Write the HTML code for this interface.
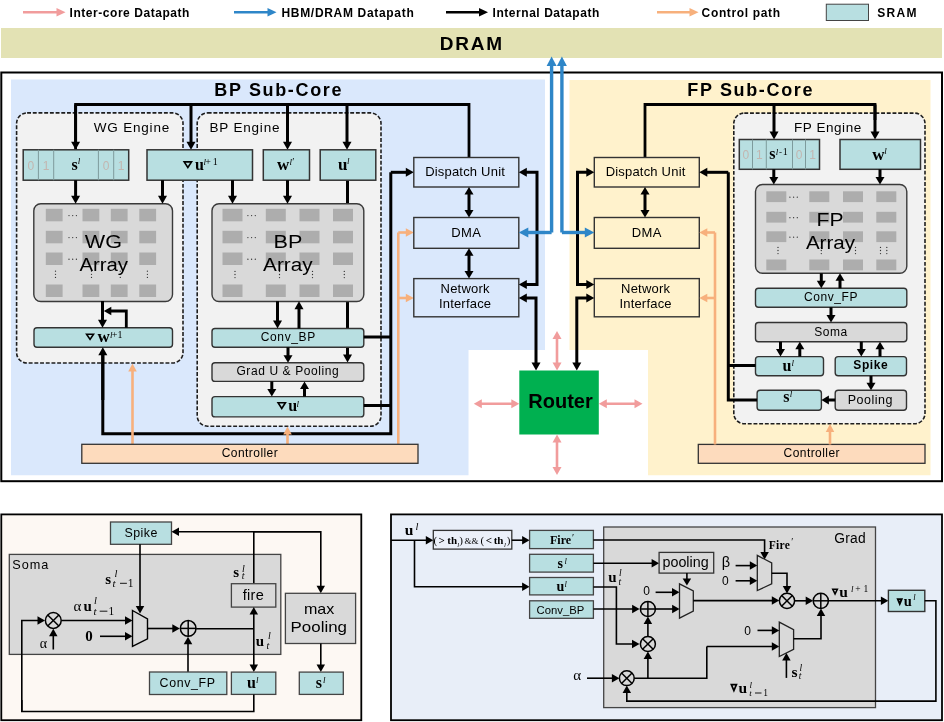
<!DOCTYPE html><html><head><meta charset="utf-8"><style>html,body{margin:0;padding:0;background:#fff;overflow:hidden}svg{display:block;will-change:transform}</style></head><body>
<svg width="944" height="722" viewBox="0 0 944 722">
<rect x="0" y="0" width="944" height="722" fill="#fff"/>
<polyline points="23,12.2 59.2,12.2" fill="none" stroke="#f19c9c" stroke-width="2.6" stroke-linejoin="miter" />
<polygon points="65.5,12.2 56.5,16.45 56.5,7.95" fill="#f19c9c" stroke="none" stroke-width="1" stroke-linejoin="miter" />
<text x="69.5" y="16.7" font-family="Liberation Sans" font-size="12" font-weight="bold" font-style="normal" text-anchor="start" fill="#000" letter-spacing="0.55" >Inter-core Datapath</text>
<polyline points="234,12.2 270.2,12.2" fill="none" stroke="#2e86c8" stroke-width="2.6" stroke-linejoin="miter" />
<polygon points="276.5,12.2 267.5,16.45 267.5,7.95" fill="#2e86c8" stroke="none" stroke-width="1" stroke-linejoin="miter" />
<text x="281.5" y="16.7" font-family="Liberation Sans" font-size="12" font-weight="bold" font-style="normal" text-anchor="start" fill="#000" letter-spacing="0.68" >HBM/DRAM Datapath</text>
<polyline points="446,12.2 481.7,12.2" fill="none" stroke="#000" stroke-width="2.6" stroke-linejoin="miter" />
<polygon points="488,12.2 479,16.45 479,7.95" fill="#000" stroke="none" stroke-width="1" stroke-linejoin="miter" />
<text x="492.5" y="16.7" font-family="Liberation Sans" font-size="12" font-weight="bold" font-style="normal" text-anchor="start" fill="#000" letter-spacing="0.55" >Internal Datapath</text>
<polyline points="657,12.2 692.2,12.2" fill="none" stroke="#f7b07c" stroke-width="2.6" stroke-linejoin="miter" />
<polygon points="698.5,12.2 689.5,16.45 689.5,7.95" fill="#f7b07c" stroke="none" stroke-width="1" stroke-linejoin="miter" />
<text x="701.6" y="16.7" font-family="Liberation Sans" font-size="12" font-weight="bold" font-style="normal" text-anchor="start" fill="#000" letter-spacing="0.65" >Control path</text>
<rect x="826.3" y="4.2" width="42.2" height="16.3" rx="0" fill="#b8dfe1" stroke="#444" stroke-width="1" />
<text x="877.2" y="16.7" font-family="Liberation Sans" font-size="12" font-weight="bold" font-style="normal" text-anchor="start" fill="#000" letter-spacing="1.3" >SRAM</text>
<rect x="1" y="28" width="941" height="30" rx="0" fill="#e3e2b4" stroke="none" stroke-width="1" />
<text x="439.7" y="50.2" font-family="Liberation Sans" font-size="19" font-weight="bold" font-style="normal" text-anchor="start" fill="#000" letter-spacing="1.8" >DRAM</text>
<rect x="1.3" y="72.5" width="940.7" height="408.7" rx="0" fill="#fff" stroke="#000" stroke-width="2" />
<polygon points="11,79.5 545,79.5 545,350 468.5,350 468.5,475.3 11,475.3" fill="#dae8fc" stroke="none" stroke-width="1" stroke-linejoin="miter" />
<polygon points="569.5,80 930.5,80 930.5,475.3 648,475.3 648,350 569.5,350" fill="#fff2cc" stroke="none" stroke-width="1" stroke-linejoin="miter" />
<text x="214.3" y="96.4" font-family="Liberation Sans" font-size="18" font-weight="bold" font-style="normal" text-anchor="start" fill="#000" letter-spacing="1.65" >BP Sub-Core</text>
<text x="687.3" y="96.4" font-family="Liberation Sans" font-size="18" font-weight="bold" font-style="normal" text-anchor="start" fill="#000" letter-spacing="1.65" >FP Sub-Core</text>
<rect x="16.6" y="112.9" width="166.4" height="250.1" rx="10.5" fill="#f2f2f2" stroke="#1e1e1e" stroke-width="1.6" stroke-dasharray="3.9 1.8"/>
<rect x="197.2" y="112.9" width="183.8" height="313.3" rx="10.5" fill="#f2f2f2" stroke="#1e1e1e" stroke-width="1.6" stroke-dasharray="3.9 1.8"/>
<rect x="733.8" y="113.1" width="191.2" height="310.7" rx="10.5" fill="#f2f2f2" stroke="#1e1e1e" stroke-width="1.6" stroke-dasharray="3.9 1.8"/>
<text x="93.8" y="131.8" font-family="Liberation Sans" font-size="13.5" font-weight="normal" font-style="normal" text-anchor="start" fill="#000" letter-spacing="0.8" >WG Engine</text>
<text x="209.5" y="131.8" font-family="Liberation Sans" font-size="13.5" font-weight="normal" font-style="normal" text-anchor="start" fill="#000" letter-spacing="0.8" >BP Engine</text>
<text x="794" y="131.8" font-family="Liberation Sans" font-size="13.5" font-weight="normal" font-style="normal" text-anchor="start" fill="#000" letter-spacing="0.55" >FP Engine</text>
<polyline points="347.5,180.2 347.5,355" fill="none" stroke="#000" stroke-width="3" stroke-linejoin="miter" />
<polygon points="347.5,362.5 343,354.5 352,354.5" fill="#000" stroke="none" stroke-width="1" stroke-linejoin="miter" />
<polyline points="75.6,150 75.6,104.5 469,104.5 469,157.5" fill="none" stroke="#000" stroke-width="2.8" stroke-linejoin="miter" />
<polyline points="75.6,104.5 75.6,144.2" fill="none" stroke="#000" stroke-width="3" stroke-linejoin="miter" />
<polygon points="75.6,149.8 71.1,141.8 80.1,141.8" fill="#000" stroke="none" stroke-width="1" stroke-linejoin="miter" />
<polyline points="191,104.5 191,144.2" fill="none" stroke="#000" stroke-width="3" stroke-linejoin="miter" />
<polygon points="191,149.8 186.5,141.8 195.5,141.8" fill="#000" stroke="none" stroke-width="1" stroke-linejoin="miter" />
<polyline points="287.5,104.5 287.5,144.2" fill="none" stroke="#000" stroke-width="3" stroke-linejoin="miter" />
<polygon points="287.5,149.8 283,141.8 292,141.8" fill="#000" stroke="none" stroke-width="1" stroke-linejoin="miter" />
<polyline points="347,104.5 347,144.2" fill="none" stroke="#000" stroke-width="3" stroke-linejoin="miter" />
<polygon points="347,149.8 342.5,141.8 351.5,141.8" fill="#000" stroke="none" stroke-width="1" stroke-linejoin="miter" />
<polyline points="645,157.5 645,104.5 875,104.5 875,120" fill="none" stroke="#000" stroke-width="2.8" stroke-linejoin="miter" />
<polyline points="774,104.5 774,133.9" fill="none" stroke="#000" stroke-width="3" stroke-linejoin="miter" />
<polygon points="774,139.5 769.5,131.5 778.5,131.5" fill="#000" stroke="none" stroke-width="1" stroke-linejoin="miter" />
<polyline points="875,104.5 875,133.9" fill="none" stroke="#000" stroke-width="3" stroke-linejoin="miter" />
<polygon points="875,139.5 870.5,131.5 879.5,131.5" fill="#000" stroke="none" stroke-width="1" stroke-linejoin="miter" />
<rect x="23.2" y="149.8" width="105.5" height="30.4" rx="0" fill="#b8dfe1" stroke="#333333" stroke-width="1.5" />
<polyline points="38.4,149.8 38.4,180.2" fill="none" stroke="#7e9b9c" stroke-width="1" stroke-linejoin="miter" />
<polyline points="53.7,149.8 53.7,180.2" fill="none" stroke="#7e9b9c" stroke-width="1" stroke-linejoin="miter" />
<polyline points="98.4,149.8 98.4,180.2" fill="none" stroke="#7e9b9c" stroke-width="1" stroke-linejoin="miter" />
<polyline points="113.7,149.8 113.7,180.2" fill="none" stroke="#7e9b9c" stroke-width="1" stroke-linejoin="miter" />
<text x="30.8" y="169.5" font-family="Liberation Sans" font-size="12" font-weight="normal" font-style="normal" text-anchor="middle" fill="#c2b6b0" letter-spacing="0" >0</text>
<text x="46.05" y="169.5" font-family="Liberation Sans" font-size="12" font-weight="normal" font-style="normal" text-anchor="middle" fill="#c2b6b0" letter-spacing="0" >1</text>
<text x="106.05" y="169.5" font-family="Liberation Sans" font-size="12" font-weight="normal" font-style="normal" text-anchor="middle" fill="#c2b6b0" letter-spacing="0" >0</text>
<text x="121.2" y="169.5" font-family="Liberation Sans" font-size="12" font-weight="normal" font-style="normal" text-anchor="middle" fill="#c2b6b0" letter-spacing="0" >1</text>
<rect x="739.3" y="139.5" width="80.2" height="29.8" rx="0" fill="#b8dfe1" stroke="#333333" stroke-width="1.5" />
<polyline points="752.5,139.5 752.5,169.3" fill="none" stroke="#7e9b9c" stroke-width="1" stroke-linejoin="miter" />
<polyline points="766.3,139.5 766.3,169.3" fill="none" stroke="#7e9b9c" stroke-width="1" stroke-linejoin="miter" />
<polyline points="792.5,139.5 792.5,169.3" fill="none" stroke="#7e9b9c" stroke-width="1" stroke-linejoin="miter" />
<polyline points="805.5,139.5 805.5,169.3" fill="none" stroke="#7e9b9c" stroke-width="1" stroke-linejoin="miter" />
<text x="745.9" y="159" font-family="Liberation Sans" font-size="12" font-weight="normal" font-style="normal" text-anchor="middle" fill="#c2b6b0" letter-spacing="0" >0</text>
<text x="759.4" y="159" font-family="Liberation Sans" font-size="12" font-weight="normal" font-style="normal" text-anchor="middle" fill="#c2b6b0" letter-spacing="0" >1</text>
<text x="799" y="159" font-family="Liberation Sans" font-size="12" font-weight="normal" font-style="normal" text-anchor="middle" fill="#c2b6b0" letter-spacing="0" >0</text>
<text x="812.5" y="159" font-family="Liberation Sans" font-size="12" font-weight="normal" font-style="normal" text-anchor="middle" fill="#c2b6b0" letter-spacing="0" >1</text>
<rect x="147" y="149.8" width="105.5" height="30.4" rx="0" fill="#b8dfe1" stroke="#333333" stroke-width="1.5" />
<rect x="263.3" y="149.8" width="46.2" height="30.4" rx="0" fill="#b8dfe1" stroke="#333333" stroke-width="1.5" />
<rect x="320.2" y="149.8" width="55.6" height="30.4" rx="0" fill="#b8dfe1" stroke="#333333" stroke-width="1.5" />
<rect x="840" y="139.5" width="80.5" height="29.8" rx="0" fill="#b8dfe1" stroke="#333333" stroke-width="1.5" />
<text x="71.4" y="169.9" font-family="Liberation Serif" font-size="16" font-weight="bold" font-style="normal" text-anchor="start" fill="#000" letter-spacing="0" >s</text>
<text x="77.8" y="164.2" font-family="Liberation Serif" font-size="9" font-weight="normal" font-style="italic" text-anchor="start" fill="#000" letter-spacing="0" >l</text>
<polygon points="184.18,161.9 191.52,161.9 187.85,167.44" fill="none" stroke="#000" stroke-width="1.6" stroke-linejoin="miter" />
<text x="194.9" y="169.8" font-family="Liberation Serif" font-size="16" font-weight="bold" font-style="normal" text-anchor="start" fill="#000" letter-spacing="0" >u</text>
<text x="203.5" y="165" font-family="Liberation Serif" font-size="9" font-weight="normal" font-style="italic" text-anchor="start" fill="#000" letter-spacing="0" >l</text>
<text x="205.2" y="165" font-family="Liberation Serif" font-size="10" font-weight="normal" font-style="normal" text-anchor="start" fill="#000" letter-spacing="0" >+</text>
<text x="212.8" y="165" font-family="Liberation Serif" font-size="10" font-weight="normal" font-style="normal" text-anchor="start" fill="#000" letter-spacing="0" >1</text>
<text x="277" y="169.8" font-family="Liberation Serif" font-size="17" font-weight="bold" font-style="normal" text-anchor="start" fill="#000" letter-spacing="0" >w</text>
<text x="289.4" y="164.6" font-family="Liberation Serif" font-size="9" font-weight="normal" font-style="italic" text-anchor="start" fill="#000" letter-spacing="0" >l</text>
<text x="292.3" y="164.6" font-family="Liberation Serif" font-size="10" font-weight="normal" font-style="normal" text-anchor="start" fill="#000" letter-spacing="0" >&#8242;</text>
<text x="338.1" y="169.8" font-family="Liberation Serif" font-size="17" font-weight="bold" font-style="normal" text-anchor="start" fill="#000" letter-spacing="0" >u</text>
<text x="347" y="164.2" font-family="Liberation Serif" font-size="9" font-weight="normal" font-style="italic" text-anchor="start" fill="#000" letter-spacing="0" >l</text>
<text x="769.3" y="159" font-family="Liberation Serif" font-size="16" font-weight="bold" font-style="normal" text-anchor="start" fill="#000" letter-spacing="0" >s</text>
<text x="775.8" y="154.8" font-family="Liberation Serif" font-size="9" font-weight="normal" font-style="italic" text-anchor="start" fill="#000" letter-spacing="0" >l</text>
<text x="779" y="154.8" font-family="Liberation Serif" font-size="9" font-weight="normal" font-style="normal" text-anchor="start" fill="#000" letter-spacing="0" >-</text>
<text x="782.8" y="154.8" font-family="Liberation Serif" font-size="10" font-weight="normal" font-style="normal" text-anchor="start" fill="#000" letter-spacing="0" >1</text>
<text x="872.2" y="159.5" font-family="Liberation Serif" font-size="17" font-weight="bold" font-style="normal" text-anchor="start" fill="#000" letter-spacing="0" >w</text>
<text x="884.3" y="154.2" font-family="Liberation Serif" font-size="9" font-weight="normal" font-style="italic" text-anchor="start" fill="#000" letter-spacing="0" >l</text>
<rect x="33.8" y="203.8" width="138.7" height="97.7" rx="7" fill="#d9d9d9" stroke="#3a3a3a" stroke-width="1.4" />
<rect x="45.8" y="208.8" width="16.8" height="12.5" rx="0" fill="#adadad" stroke="none" stroke-width="1" />
<rect x="45.8" y="230.8" width="16.8" height="12.5" rx="0" fill="#adadad" stroke="none" stroke-width="1" />
<rect x="45.8" y="252.5" width="16.8" height="12.5" rx="0" fill="#adadad" stroke="none" stroke-width="1" />
<rect x="45.8" y="284.5" width="16.8" height="12.5" rx="0" fill="#adadad" stroke="none" stroke-width="1" />
<rect x="82.5" y="208.8" width="16.8" height="12.5" rx="0" fill="#adadad" stroke="none" stroke-width="1" />
<rect x="82.5" y="230.8" width="16.8" height="12.5" rx="0" fill="#adadad" stroke="none" stroke-width="1" />
<rect x="82.5" y="252.5" width="16.8" height="12.5" rx="0" fill="#adadad" stroke="none" stroke-width="1" />
<rect x="82.5" y="284.5" width="16.8" height="12.5" rx="0" fill="#adadad" stroke="none" stroke-width="1" />
<rect x="110.8" y="208.8" width="16.8" height="12.5" rx="0" fill="#adadad" stroke="none" stroke-width="1" />
<rect x="110.8" y="230.8" width="16.8" height="12.5" rx="0" fill="#adadad" stroke="none" stroke-width="1" />
<rect x="110.8" y="252.5" width="16.8" height="12.5" rx="0" fill="#adadad" stroke="none" stroke-width="1" />
<rect x="110.8" y="284.5" width="16.8" height="12.5" rx="0" fill="#adadad" stroke="none" stroke-width="1" />
<rect x="139.3" y="208.8" width="16.8" height="12.5" rx="0" fill="#adadad" stroke="none" stroke-width="1" />
<rect x="139.3" y="230.8" width="16.8" height="12.5" rx="0" fill="#adadad" stroke="none" stroke-width="1" />
<rect x="139.3" y="252.5" width="16.8" height="12.5" rx="0" fill="#adadad" stroke="none" stroke-width="1" />
<rect x="139.3" y="284.5" width="16.8" height="12.5" rx="0" fill="#adadad" stroke="none" stroke-width="1" />
<circle cx="69" cy="215.55" r="0.65" fill="#333"/>
<circle cx="72.7" cy="215.55" r="0.65" fill="#333"/>
<circle cx="76.4" cy="215.55" r="0.65" fill="#333"/>
<circle cx="69" cy="237.55" r="0.65" fill="#333"/>
<circle cx="72.7" cy="237.55" r="0.65" fill="#333"/>
<circle cx="76.4" cy="237.55" r="0.65" fill="#333"/>
<circle cx="69" cy="259.25" r="0.65" fill="#333"/>
<circle cx="72.7" cy="259.25" r="0.65" fill="#333"/>
<circle cx="76.4" cy="259.25" r="0.65" fill="#333"/>
<circle cx="55.5" cy="271.2" r="0.65" fill="#333"/>
<circle cx="55.5" cy="274.3" r="0.65" fill="#333"/>
<circle cx="55.5" cy="277.4" r="0.65" fill="#333"/>
<circle cx="91.5" cy="271.2" r="0.65" fill="#333"/>
<circle cx="91.5" cy="274.3" r="0.65" fill="#333"/>
<circle cx="91.5" cy="277.4" r="0.65" fill="#333"/>
<circle cx="120.3" cy="271.2" r="0.65" fill="#333"/>
<circle cx="120.3" cy="274.3" r="0.65" fill="#333"/>
<circle cx="120.3" cy="277.4" r="0.65" fill="#333"/>
<circle cx="147.4" cy="271.2" r="0.65" fill="#333"/>
<circle cx="147.4" cy="274.3" r="0.65" fill="#333"/>
<circle cx="147.4" cy="277.4" r="0.65" fill="#333"/>
<text x="84.8" y="247.5" font-family="Liberation Sans" font-size="18" font-weight="normal" fill="#000" textLength="37.2" lengthAdjust="spacingAndGlyphs">WG</text>
<text x="79.4" y="270.5" font-family="Liberation Sans" font-size="18" font-weight="normal" fill="#000" textLength="48.6" lengthAdjust="spacingAndGlyphs">Array</text>
<rect x="212" y="203.8" width="151.8" height="97.7" rx="7" fill="#d9d9d9" stroke="#3a3a3a" stroke-width="1.4" />
<rect x="222.5" y="208.8" width="20" height="12.5" rx="0" fill="#adadad" stroke="none" stroke-width="1" />
<rect x="222.5" y="230.8" width="20" height="12.5" rx="0" fill="#adadad" stroke="none" stroke-width="1" />
<rect x="222.5" y="252.5" width="20" height="12.5" rx="0" fill="#adadad" stroke="none" stroke-width="1" />
<rect x="222.5" y="284.5" width="20" height="12.5" rx="0" fill="#adadad" stroke="none" stroke-width="1" />
<rect x="265.8" y="208.8" width="20" height="12.5" rx="0" fill="#adadad" stroke="none" stroke-width="1" />
<rect x="265.8" y="230.8" width="20" height="12.5" rx="0" fill="#adadad" stroke="none" stroke-width="1" />
<rect x="265.8" y="252.5" width="20" height="12.5" rx="0" fill="#adadad" stroke="none" stroke-width="1" />
<rect x="265.8" y="284.5" width="20" height="12.5" rx="0" fill="#adadad" stroke="none" stroke-width="1" />
<rect x="299.5" y="208.8" width="20" height="12.5" rx="0" fill="#adadad" stroke="none" stroke-width="1" />
<rect x="299.5" y="230.8" width="20" height="12.5" rx="0" fill="#adadad" stroke="none" stroke-width="1" />
<rect x="299.5" y="252.5" width="20" height="12.5" rx="0" fill="#adadad" stroke="none" stroke-width="1" />
<rect x="299.5" y="284.5" width="20" height="12.5" rx="0" fill="#adadad" stroke="none" stroke-width="1" />
<rect x="333" y="208.8" width="20" height="12.5" rx="0" fill="#adadad" stroke="none" stroke-width="1" />
<rect x="333" y="230.8" width="20" height="12.5" rx="0" fill="#adadad" stroke="none" stroke-width="1" />
<rect x="333" y="252.5" width="20" height="12.5" rx="0" fill="#adadad" stroke="none" stroke-width="1" />
<rect x="333" y="284.5" width="20" height="12.5" rx="0" fill="#adadad" stroke="none" stroke-width="1" />
<circle cx="247.9" cy="215.55" r="0.65" fill="#333"/>
<circle cx="251.6" cy="215.55" r="0.65" fill="#333"/>
<circle cx="255.3" cy="215.55" r="0.65" fill="#333"/>
<circle cx="247.9" cy="237.55" r="0.65" fill="#333"/>
<circle cx="251.6" cy="237.55" r="0.65" fill="#333"/>
<circle cx="255.3" cy="237.55" r="0.65" fill="#333"/>
<circle cx="247.9" cy="259.25" r="0.65" fill="#333"/>
<circle cx="251.6" cy="259.25" r="0.65" fill="#333"/>
<circle cx="255.3" cy="259.25" r="0.65" fill="#333"/>
<circle cx="235" cy="271.4" r="0.65" fill="#333"/>
<circle cx="235" cy="274.5" r="0.65" fill="#333"/>
<circle cx="235" cy="277.6" r="0.65" fill="#333"/>
<circle cx="279.5" cy="271.4" r="0.65" fill="#333"/>
<circle cx="279.5" cy="274.5" r="0.65" fill="#333"/>
<circle cx="279.5" cy="277.6" r="0.65" fill="#333"/>
<circle cx="312.5" cy="271.4" r="0.65" fill="#333"/>
<circle cx="312.5" cy="274.5" r="0.65" fill="#333"/>
<circle cx="312.5" cy="277.6" r="0.65" fill="#333"/>
<circle cx="344.3" cy="271.4" r="0.65" fill="#333"/>
<circle cx="344.3" cy="274.5" r="0.65" fill="#333"/>
<circle cx="344.3" cy="277.6" r="0.65" fill="#333"/>
<text x="273.6" y="247.5" font-family="Liberation Sans" font-size="18" font-weight="normal" fill="#000" textLength="28.8" lengthAdjust="spacingAndGlyphs">BP</text>
<text x="263.1" y="270.5" font-family="Liberation Sans" font-size="18" font-weight="normal" fill="#000" textLength="49.4" lengthAdjust="spacingAndGlyphs">Array</text>
<rect x="755.5" y="184.5" width="151.3" height="88.8" rx="7" fill="#d9d9d9" stroke="#3a3a3a" stroke-width="1.4" />
<rect x="766.3" y="191.3" width="20" height="10.8" rx="0" fill="#adadad" stroke="none" stroke-width="1" />
<rect x="766.3" y="211.8" width="20" height="10.8" rx="0" fill="#adadad" stroke="none" stroke-width="1" />
<rect x="766.3" y="231.3" width="20" height="10.8" rx="0" fill="#adadad" stroke="none" stroke-width="1" />
<rect x="766.3" y="259.5" width="20" height="10.8" rx="0" fill="#adadad" stroke="none" stroke-width="1" />
<rect x="809.3" y="191.3" width="20" height="10.8" rx="0" fill="#adadad" stroke="none" stroke-width="1" />
<rect x="809.3" y="211.8" width="20" height="10.8" rx="0" fill="#adadad" stroke="none" stroke-width="1" />
<rect x="809.3" y="231.3" width="20" height="10.8" rx="0" fill="#adadad" stroke="none" stroke-width="1" />
<rect x="809.3" y="259.5" width="20" height="10.8" rx="0" fill="#adadad" stroke="none" stroke-width="1" />
<rect x="843" y="191.3" width="20" height="10.8" rx="0" fill="#adadad" stroke="none" stroke-width="1" />
<rect x="843" y="211.8" width="20" height="10.8" rx="0" fill="#adadad" stroke="none" stroke-width="1" />
<rect x="843" y="231.3" width="20" height="10.8" rx="0" fill="#adadad" stroke="none" stroke-width="1" />
<rect x="843" y="259.5" width="20" height="10.8" rx="0" fill="#adadad" stroke="none" stroke-width="1" />
<rect x="876.3" y="191.3" width="20" height="10.8" rx="0" fill="#adadad" stroke="none" stroke-width="1" />
<rect x="876.3" y="211.8" width="20" height="10.8" rx="0" fill="#adadad" stroke="none" stroke-width="1" />
<rect x="876.3" y="231.3" width="20" height="10.8" rx="0" fill="#adadad" stroke="none" stroke-width="1" />
<rect x="876.3" y="259.5" width="20" height="10.8" rx="0" fill="#adadad" stroke="none" stroke-width="1" />
<circle cx="789.9" cy="197.2" r="0.65" fill="#333"/>
<circle cx="793.6" cy="197.2" r="0.65" fill="#333"/>
<circle cx="797.3" cy="197.2" r="0.65" fill="#333"/>
<circle cx="789.9" cy="217.7" r="0.65" fill="#333"/>
<circle cx="793.6" cy="217.7" r="0.65" fill="#333"/>
<circle cx="797.3" cy="217.7" r="0.65" fill="#333"/>
<circle cx="789.9" cy="237.2" r="0.65" fill="#333"/>
<circle cx="793.6" cy="237.2" r="0.65" fill="#333"/>
<circle cx="797.3" cy="237.2" r="0.65" fill="#333"/>
<circle cx="778" cy="247.4" r="0.65" fill="#333"/>
<circle cx="778" cy="250.5" r="0.65" fill="#333"/>
<circle cx="778" cy="253.6" r="0.65" fill="#333"/>
<circle cx="821.3" cy="247.4" r="0.65" fill="#333"/>
<circle cx="821.3" cy="250.5" r="0.65" fill="#333"/>
<circle cx="821.3" cy="253.6" r="0.65" fill="#333"/>
<circle cx="855.5" cy="247.4" r="0.65" fill="#333"/>
<circle cx="855.5" cy="250.5" r="0.65" fill="#333"/>
<circle cx="855.5" cy="253.6" r="0.65" fill="#333"/>
<circle cx="880.5" cy="247.4" r="0.65" fill="#333"/>
<circle cx="880.5" cy="250.5" r="0.65" fill="#333"/>
<circle cx="880.5" cy="253.6" r="0.65" fill="#333"/>
<circle cx="886.8" cy="247.4" r="0.65" fill="#333"/>
<circle cx="886.8" cy="250.5" r="0.65" fill="#333"/>
<circle cx="886.8" cy="253.6" r="0.65" fill="#333"/>
<text x="816.6" y="226.3" font-family="Liberation Sans" font-size="18" font-weight="normal" fill="#000" textLength="27" lengthAdjust="spacingAndGlyphs">FP</text>
<text x="805.9" y="248.8" font-family="Liberation Sans" font-size="18" font-weight="normal" fill="#000" textLength="49.2" lengthAdjust="spacingAndGlyphs">Array</text>
<polyline points="75.6,180.2 75.6,198.2" fill="none" stroke="#000" stroke-width="3" stroke-linejoin="miter" />
<polygon points="75.6,203.8 71.1,195.8 80.1,195.8" fill="#000" stroke="none" stroke-width="1" stroke-linejoin="miter" />
<polyline points="162.5,180.2 162.5,198.2" fill="none" stroke="#000" stroke-width="3" stroke-linejoin="miter" />
<polygon points="162.5,203.8 158,195.8 167,195.8" fill="#000" stroke="none" stroke-width="1" stroke-linejoin="miter" />
<rect x="34" y="327.7" width="138.5" height="19.6" rx="3" fill="#b8dfe1" stroke="#333333" stroke-width="1.4" />
<polygon points="86.58,334.2 93.52,334.2 90.05,339.34" fill="none" stroke="#000" stroke-width="1.6" stroke-linejoin="miter" />
<text x="97.4" y="341.7" font-family="Liberation Serif" font-size="17" font-weight="bold" font-style="normal" text-anchor="start" fill="#000" letter-spacing="0" >w</text>
<text x="110" y="337.6" font-family="Liberation Serif" font-size="9" font-weight="normal" font-style="italic" text-anchor="start" fill="#000" letter-spacing="0" >l</text>
<text x="111.7" y="337.6" font-family="Liberation Serif" font-size="10" font-weight="normal" font-style="normal" text-anchor="start" fill="#000" letter-spacing="0" >+</text>
<text x="117.6" y="337.6" font-family="Liberation Serif" font-size="10" font-weight="normal" font-style="normal" text-anchor="start" fill="#000" letter-spacing="0" >1</text>
<polyline points="102.5,301 102.5,322.1" fill="none" stroke="#000" stroke-width="3" stroke-linejoin="miter" />
<polygon points="102.5,327.7 98,319.7 107,319.7" fill="#000" stroke="none" stroke-width="1" stroke-linejoin="miter" />
<polyline points="126.3,327.7 126.3,311 109.05,311" fill="none" stroke="#000" stroke-width="2.8" stroke-linejoin="miter" />
<polygon points="103.8,311 111.3,306.75 111.3,315.25" fill="#000" stroke="none" stroke-width="1" stroke-linejoin="miter" />
<polyline points="232.5,180.2 232.5,198.2" fill="none" stroke="#000" stroke-width="3" stroke-linejoin="miter" />
<polygon points="232.5,203.8 228,195.8 237,195.8" fill="#000" stroke="none" stroke-width="1" stroke-linejoin="miter" />
<polyline points="287.5,180.2 287.5,198.2" fill="none" stroke="#000" stroke-width="3" stroke-linejoin="miter" />
<polygon points="287.5,203.8 283,195.8 292,195.8" fill="#000" stroke="none" stroke-width="1" stroke-linejoin="miter" />
<rect x="212" y="328.5" width="151.8" height="18.8" rx="3" fill="#b8dfe1" stroke="#333333" stroke-width="1.4" />
<text x="288.3" y="340.9" font-family="Liberation Sans" font-size="12" font-weight="normal" font-style="normal" text-anchor="middle" fill="#000" letter-spacing="0.65" >Conv_BP</text>
<rect x="212" y="362.7" width="151.8" height="18.7" rx="3" fill="#d9d9d9" stroke="#333333" stroke-width="1.4" />
<text x="287.9" y="374.8" font-family="Liberation Sans" font-size="12" font-weight="normal" font-style="normal" text-anchor="middle" fill="#000" letter-spacing="0.6" >Grad U &amp; Pooling</text>
<rect x="212" y="396.6" width="151.8" height="20.3" rx="3" fill="#b8dfe1" stroke="#333333" stroke-width="1.4" />
<polygon points="278.08,402.8 285.42,402.8 281.75,408.54" fill="none" stroke="#000" stroke-width="1.6" stroke-linejoin="miter" />
<text x="288.2" y="410.9" font-family="Liberation Serif" font-size="16" font-weight="bold" font-style="normal" text-anchor="start" fill="#000" letter-spacing="0" >u</text>
<text x="296.6" y="406.8" font-family="Liberation Serif" font-size="9" font-weight="normal" font-style="italic" text-anchor="start" fill="#000" letter-spacing="0" >l</text>
<polyline points="277.5,301.2 277.5,322.9" fill="none" stroke="#000" stroke-width="3" stroke-linejoin="miter" />
<polygon points="277.5,328.5 273,320.5 282,320.5" fill="#000" stroke="none" stroke-width="1" stroke-linejoin="miter" />
<polyline points="299,328.5 299,306.8" fill="none" stroke="#000" stroke-width="3" stroke-linejoin="miter" />
<polygon points="299,301.2 303.5,309.2 294.5,309.2" fill="#000" stroke="none" stroke-width="1" stroke-linejoin="miter" />
<polyline points="288,347.3 288,357.45" fill="none" stroke="#000" stroke-width="3" stroke-linejoin="miter" />
<polygon points="288,362.7 283.5,355.2 292.5,355.2" fill="#000" stroke="none" stroke-width="1" stroke-linejoin="miter" />
<polyline points="271.8,381.4 271.8,391.35" fill="none" stroke="#000" stroke-width="3" stroke-linejoin="miter" />
<polygon points="271.8,396.6 267.3,389.1 276.3,389.1" fill="#000" stroke="none" stroke-width="1" stroke-linejoin="miter" />
<polyline points="304.5,396.6 304.5,386.65" fill="none" stroke="#000" stroke-width="3" stroke-linejoin="miter" />
<polygon points="304.5,381.4 309,388.9 300,388.9" fill="#000" stroke="none" stroke-width="1" stroke-linejoin="miter" />
<polyline points="363.8,337 390.8,337" fill="none" stroke="#000" stroke-width="3" stroke-linejoin="miter" />
<polyline points="363.8,405.5 390.8,405.5" fill="none" stroke="#000" stroke-width="3" stroke-linejoin="miter" />
<polyline points="390.8,172.3 390.8,433.8 102.8,433.8 102.8,355" fill="none" stroke="#000" stroke-width="3" stroke-linejoin="miter" />
<polyline points="102.8,400 102.8,352.9" fill="none" stroke="#000" stroke-width="3" stroke-linejoin="miter" />
<polygon points="102.8,347.3 107.3,355.3 98.3,355.3" fill="#000" stroke="none" stroke-width="1" stroke-linejoin="miter" />
<polyline points="390.8,172.3 408.2,172.3" fill="none" stroke="#000" stroke-width="3" stroke-linejoin="miter" />
<polygon points="413.8,172.3 405.8,176.8 405.8,167.8" fill="#000" stroke="none" stroke-width="1" stroke-linejoin="miter" />
<polyline points="398.3,444.3 398.3,232.5" fill="none" stroke="#f7b07c" stroke-width="2.6" stroke-linejoin="miter" />
<polyline points="398.3,232.5 408.2,232.5" fill="none" stroke="#f7b07c" stroke-width="2.6" stroke-linejoin="miter" />
<polygon points="413.8,232.5 405.8,236.75 405.8,228.25" fill="#f7b07c" stroke="none" stroke-width="1" stroke-linejoin="miter" />
<polyline points="398.3,298 408.2,298" fill="none" stroke="#f7b07c" stroke-width="2.6" stroke-linejoin="miter" />
<polygon points="413.8,298 405.8,302.25 405.8,293.75" fill="#f7b07c" stroke="none" stroke-width="1" stroke-linejoin="miter" />
<polyline points="132.5,444.3 132.5,369.1" fill="none" stroke="#f7b07c" stroke-width="2.6" stroke-linejoin="miter" />
<polygon points="132.5,363.5 136.75,371.5 128.25,371.5" fill="#f7b07c" stroke="none" stroke-width="1" stroke-linejoin="miter" />
<polyline points="287.5,444.3 287.5,432" fill="none" stroke="#f7b07c" stroke-width="2.6" stroke-linejoin="miter" />
<polygon points="287.5,426.4 291.75,434.4 283.25,434.4" fill="#f7b07c" stroke="none" stroke-width="1" stroke-linejoin="miter" />
<rect x="413.8" y="157.5" width="105" height="29.5" rx="0" fill="#dae8fc" stroke="#333" stroke-width="1.4" />
<text x="465.1" y="176.3" font-family="Liberation Sans" font-size="13" font-weight="normal" font-style="normal" text-anchor="middle" fill="#000" letter-spacing="0.2" >Dispatch Unit</text>
<rect x="413.8" y="217.5" width="105" height="30.8" rx="0" fill="#dae8fc" stroke="#333" stroke-width="1.4" />
<text x="466.3" y="236.8" font-family="Liberation Sans" font-size="13" font-weight="normal" font-style="normal" text-anchor="middle" fill="#000" letter-spacing="0.4" >DMA</text>
<rect x="413.8" y="278.6" width="105" height="38.2" rx="0" fill="#dae8fc" stroke="#333" stroke-width="1.4" />
<text x="465.1" y="293.2" font-family="Liberation Sans" font-size="13" font-weight="normal" font-style="normal" text-anchor="middle" fill="#000" letter-spacing="0.2" >Network</text>
<text x="465.1" y="308.2" font-family="Liberation Sans" font-size="13" font-weight="normal" font-style="normal" text-anchor="middle" fill="#000" letter-spacing="0.2" >Interface</text>
<rect x="594.3" y="157.5" width="105" height="29.5" rx="0" fill="#fff2cc" stroke="#333" stroke-width="1.4" />
<text x="645.6" y="176.3" font-family="Liberation Sans" font-size="13" font-weight="normal" font-style="normal" text-anchor="middle" fill="#000" letter-spacing="0.2" >Dispatch Unit</text>
<rect x="594.3" y="217.5" width="105" height="30.8" rx="0" fill="#fff2cc" stroke="#333" stroke-width="1.4" />
<text x="646.8" y="236.8" font-family="Liberation Sans" font-size="13" font-weight="normal" font-style="normal" text-anchor="middle" fill="#000" letter-spacing="0.4" >DMA</text>
<rect x="594.3" y="278.6" width="105" height="38.2" rx="0" fill="#fff2cc" stroke="#333" stroke-width="1.4" />
<text x="645.6" y="293.2" font-family="Liberation Sans" font-size="13" font-weight="normal" font-style="normal" text-anchor="middle" fill="#000" letter-spacing="0.2" >Network</text>
<text x="645.6" y="308.2" font-family="Liberation Sans" font-size="13" font-weight="normal" font-style="normal" text-anchor="middle" fill="#000" letter-spacing="0.2" >Interface</text>
<polyline points="469,192.25 469,212.25" fill="none" stroke="#000" stroke-width="3" stroke-linejoin="miter" />
<polygon points="469,217.5 464.5,210 473.5,210" fill="#000" stroke="none" stroke-width="1" stroke-linejoin="miter" />
<polygon points="469,187 473.5,194.5 464.5,194.5" fill="#000" stroke="none" stroke-width="1" stroke-linejoin="miter" />
<polyline points="469,253.55 469,273.35" fill="none" stroke="#000" stroke-width="3" stroke-linejoin="miter" />
<polygon points="469,278.6 464.5,271.1 473.5,271.1" fill="#000" stroke="none" stroke-width="1" stroke-linejoin="miter" />
<polygon points="469,248.3 473.5,255.8 464.5,255.8" fill="#000" stroke="none" stroke-width="1" stroke-linejoin="miter" />
<polyline points="524.4,172.3 537,172.3 537,284.5 524.4,284.5" fill="none" stroke="#000" stroke-width="3" stroke-linejoin="miter" />
<polygon points="518.8,284.5 526.8,280 526.8,289" fill="#000" stroke="none" stroke-width="1" stroke-linejoin="miter" />
<polygon points="518.8,172.3 526.8,167.8 526.8,176.8" fill="#000" stroke="none" stroke-width="1" stroke-linejoin="miter" />
<polyline points="524.4,298 536,298 536,364.9" fill="none" stroke="#000" stroke-width="3" stroke-linejoin="miter" />
<polygon points="536,370.5 531.5,362.5 540.5,362.5" fill="#000" stroke="none" stroke-width="1" stroke-linejoin="miter" />
<polygon points="518.8,298 526.8,293.5 526.8,302.5" fill="#000" stroke="none" stroke-width="1" stroke-linejoin="miter" />
<polyline points="645,192.25 645,212.25" fill="none" stroke="#000" stroke-width="3" stroke-linejoin="miter" />
<polygon points="645,217.5 640.5,210 649.5,210" fill="#000" stroke="none" stroke-width="1" stroke-linejoin="miter" />
<polygon points="645,187 649.5,194.5 640.5,194.5" fill="#000" stroke="none" stroke-width="1" stroke-linejoin="miter" />
<polyline points="588.7,172.3 577.5,172.3 577.5,284.5 588.7,284.5" fill="none" stroke="#000" stroke-width="3" stroke-linejoin="miter" />
<polygon points="594.3,284.5 586.3,289 586.3,280" fill="#000" stroke="none" stroke-width="1" stroke-linejoin="miter" />
<polygon points="594.3,172.3 586.3,176.8 586.3,167.8" fill="#000" stroke="none" stroke-width="1" stroke-linejoin="miter" />
<polyline points="588.7,298 576.8,298 576.8,364.9" fill="none" stroke="#000" stroke-width="3" stroke-linejoin="miter" />
<polygon points="576.8,370.5 572.3,362.5 581.3,362.5" fill="#000" stroke="none" stroke-width="1" stroke-linejoin="miter" />
<polygon points="594.3,298 586.3,302.5 586.3,293.5" fill="#000" stroke="none" stroke-width="1" stroke-linejoin="miter" />
<polyline points="551.6,232.5 551.6,63.05" fill="none" stroke="#2e86c8" stroke-width="3.4" stroke-linejoin="miter" />
<polygon points="551.6,56.4 556.6,65.9 546.6,65.9" fill="#2e86c8" stroke="none" stroke-width="1" stroke-linejoin="miter" />
<polyline points="561.9,232.5 561.9,63.05" fill="none" stroke="#2e86c8" stroke-width="3.4" stroke-linejoin="miter" />
<polygon points="561.9,56.4 566.9,65.9 556.9,65.9" fill="#2e86c8" stroke="none" stroke-width="1" stroke-linejoin="miter" />
<polyline points="551.6,232.5 525.45,232.5" fill="none" stroke="#2e86c8" stroke-width="3.4" stroke-linejoin="miter" />
<polygon points="518.8,232.5 528.3,227.5 528.3,237.5" fill="#2e86c8" stroke="none" stroke-width="1" stroke-linejoin="miter" />
<polyline points="561.9,232.5 587.65,232.5" fill="none" stroke="#2e86c8" stroke-width="3.4" stroke-linejoin="miter" />
<polygon points="594.3,232.5 584.8,237.5 584.8,227.5" fill="#2e86c8" stroke="none" stroke-width="1" stroke-linejoin="miter" />
<rect x="519.3" y="370.5" width="79.5" height="64" rx="0" fill="#00b050" stroke="none" stroke-width="1" />
<text x="560.5" y="407.8" font-family="Liberation Sans" font-size="20" font-weight="bold" font-style="normal" text-anchor="middle" fill="#000" letter-spacing="0" >Router</text>
<polyline points="557,336.6 557,364.9" fill="none" stroke="#f19c9c" stroke-width="2.6" stroke-linejoin="miter" />
<polygon points="557,370.5 552.5,362.5 561.5,362.5" fill="#f19c9c" stroke="none" stroke-width="1" stroke-linejoin="miter" />
<polygon points="557,331 561.5,339 552.5,339" fill="#f19c9c" stroke="none" stroke-width="1" stroke-linejoin="miter" />
<polyline points="479.4,403.8 513.7,403.8" fill="none" stroke="#f19c9c" stroke-width="2.6" stroke-linejoin="miter" />
<polygon points="519.3,403.8 511.3,408.3 511.3,399.3" fill="#f19c9c" stroke="none" stroke-width="1" stroke-linejoin="miter" />
<polygon points="473.8,403.8 481.8,399.3 481.8,408.3" fill="#f19c9c" stroke="none" stroke-width="1" stroke-linejoin="miter" />
<polyline points="604.4,403.8 636.9,403.8" fill="none" stroke="#f19c9c" stroke-width="2.6" stroke-linejoin="miter" />
<polygon points="642.5,403.8 634.5,408.3 634.5,399.3" fill="#f19c9c" stroke="none" stroke-width="1" stroke-linejoin="miter" />
<polygon points="598.8,403.8 606.8,399.3 606.8,408.3" fill="#f19c9c" stroke="none" stroke-width="1" stroke-linejoin="miter" />
<polyline points="557,440.1 557,469.4" fill="none" stroke="#f19c9c" stroke-width="2.6" stroke-linejoin="miter" />
<polygon points="557,475 552.5,467 561.5,467" fill="#f19c9c" stroke="none" stroke-width="1" stroke-linejoin="miter" />
<polygon points="557,434.5 561.5,442.5 552.5,442.5" fill="#f19c9c" stroke="none" stroke-width="1" stroke-linejoin="miter" />
<rect x="81.8" y="444.3" width="336.2" height="19" rx="0" fill="#fddbbd" stroke="#333" stroke-width="1.3" />
<text x="249.95" y="456.7" font-family="Liberation Sans" font-size="12" font-weight="normal" font-style="normal" text-anchor="middle" fill="#000" letter-spacing="0.45" >Controller</text>
<rect x="698.3" y="444.4" width="226.7" height="18.9" rx="0" fill="#fddbbd" stroke="#333" stroke-width="1.3" />
<text x="811.8" y="456.7" font-family="Liberation Sans" font-size="12" font-weight="normal" font-style="normal" text-anchor="middle" fill="#000" letter-spacing="0.45" >Controller</text>
<polyline points="773.8,169.3 773.8,179.25" fill="none" stroke="#000" stroke-width="3" stroke-linejoin="miter" />
<polygon points="773.8,184.5 769.3,177 778.3,177" fill="#000" stroke="none" stroke-width="1" stroke-linejoin="miter" />
<polyline points="880,169.3 880,179.25" fill="none" stroke="#000" stroke-width="3" stroke-linejoin="miter" />
<polygon points="880,184.5 875.5,177 884.5,177" fill="#000" stroke="none" stroke-width="1" stroke-linejoin="miter" />
<rect x="755.5" y="288.3" width="151.3" height="18.9" rx="3" fill="#b8dfe1" stroke="#333333" stroke-width="1.4" />
<text x="831" y="300.8" font-family="Liberation Sans" font-size="12" font-weight="normal" font-style="normal" text-anchor="middle" fill="#000" letter-spacing="0.55" >Conv_FP</text>
<polyline points="821.3,273.3 821.3,283.05" fill="none" stroke="#000" stroke-width="3" stroke-linejoin="miter" />
<polygon points="821.3,288.3 816.8,280.8 825.8,280.8" fill="#000" stroke="none" stroke-width="1" stroke-linejoin="miter" />
<polyline points="840,288.3 840,278.55" fill="none" stroke="#000" stroke-width="3" stroke-linejoin="miter" />
<polygon points="840,273.3 844.5,280.8 835.5,280.8" fill="#000" stroke="none" stroke-width="1" stroke-linejoin="miter" />
<rect x="755.5" y="322.5" width="151.3" height="19.3" rx="3" fill="#d9d9d9" stroke="#333333" stroke-width="1.4" />
<text x="831" y="335.8" font-family="Liberation Sans" font-size="12" font-weight="normal" font-style="normal" text-anchor="middle" fill="#000" letter-spacing="0.6" >Soma</text>
<polyline points="831,307.2 831,317.25" fill="none" stroke="#000" stroke-width="3" stroke-linejoin="miter" />
<polygon points="831,322.5 826.5,315 835.5,315" fill="#000" stroke="none" stroke-width="1" stroke-linejoin="miter" />
<rect x="755.5" y="356.6" width="68" height="19.2" rx="3" fill="#b8dfe1" stroke="#333333" stroke-width="1.4" />
<text x="782.6" y="371" font-family="Liberation Serif" font-size="16" font-weight="bold" font-style="normal" text-anchor="start" fill="#000" letter-spacing="0" >u</text>
<text x="791.4" y="366.3" font-family="Liberation Serif" font-size="9" font-weight="normal" font-style="italic" text-anchor="start" fill="#000" letter-spacing="0" >l</text>
<rect x="835.2" y="356.6" width="71.3" height="19.2" rx="3" fill="#b8dfe1" stroke="#333333" stroke-width="1.4" />
<text x="870.8" y="369.1" font-family="Liberation Sans" font-size="12" font-weight="bold" font-style="normal" text-anchor="middle" fill="#000" letter-spacing="0.6" >Spike</text>
<rect x="757.1" y="390.3" width="64.3" height="20" rx="3" fill="#b8dfe1" stroke="#333333" stroke-width="1.4" />
<text x="783.3" y="402.2" font-family="Liberation Serif" font-size="16" font-weight="bold" font-style="normal" text-anchor="start" fill="#000" letter-spacing="0" >s</text>
<text x="789.8" y="397.2" font-family="Liberation Serif" font-size="9" font-weight="normal" font-style="italic" text-anchor="start" fill="#000" letter-spacing="0" >l</text>
<rect x="835.2" y="390.3" width="71.3" height="20" rx="3" fill="#d9d9d9" stroke="#333333" stroke-width="1.4" />
<text x="870.3" y="404.2" font-family="Liberation Sans" font-size="12.5" font-weight="normal" font-style="normal" text-anchor="middle" fill="#000" letter-spacing="0.5" >Pooling</text>
<polyline points="780.5,341.8 780.5,351.35" fill="none" stroke="#000" stroke-width="3" stroke-linejoin="miter" />
<polygon points="780.5,356.6 776,349.1 785,349.1" fill="#000" stroke="none" stroke-width="1" stroke-linejoin="miter" />
<polyline points="799.8,356.6 799.8,347.05" fill="none" stroke="#000" stroke-width="3" stroke-linejoin="miter" />
<polygon points="799.8,341.8 804.3,349.3 795.3,349.3" fill="#000" stroke="none" stroke-width="1" stroke-linejoin="miter" />
<polyline points="861.3,341.8 861.3,351.35" fill="none" stroke="#000" stroke-width="3" stroke-linejoin="miter" />
<polygon points="861.3,356.6 856.8,349.1 865.8,349.1" fill="#000" stroke="none" stroke-width="1" stroke-linejoin="miter" />
<polyline points="880,356.6 880,347.05" fill="none" stroke="#000" stroke-width="3" stroke-linejoin="miter" />
<polygon points="880,341.8 884.5,349.3 875.5,349.3" fill="#000" stroke="none" stroke-width="1" stroke-linejoin="miter" />
<polyline points="871,375.8 871,385.05" fill="none" stroke="#000" stroke-width="3" stroke-linejoin="miter" />
<polygon points="871,390.3 866.5,382.8 875.5,382.8" fill="#000" stroke="none" stroke-width="1" stroke-linejoin="miter" />
<polyline points="835.2,400 826.65,400" fill="none" stroke="#000" stroke-width="3" stroke-linejoin="miter" />
<polygon points="821.4,400 828.9,395.5 828.9,404.5" fill="#000" stroke="none" stroke-width="1" stroke-linejoin="miter" />
<polyline points="755.5,365.5 728.3,365.5" fill="none" stroke="#000" stroke-width="3" stroke-linejoin="miter" />
<polyline points="757.1,400 728.3,400 728.3,172.3" fill="none" stroke="#000" stroke-width="3" stroke-linejoin="miter" />
<polyline points="728.3,172.3 704.9,172.3" fill="none" stroke="#000" stroke-width="3" stroke-linejoin="miter" />
<polygon points="699.3,172.3 707.3,167.8 707.3,176.8" fill="#000" stroke="none" stroke-width="1" stroke-linejoin="miter" />
<polyline points="715,444.5 715,232.5" fill="none" stroke="#f7b07c" stroke-width="2.6" stroke-linejoin="miter" />
<polyline points="715,232.5 704.9,232.5" fill="none" stroke="#f7b07c" stroke-width="2.6" stroke-linejoin="miter" />
<polygon points="699.3,232.5 707.3,228.25 707.3,236.75" fill="#f7b07c" stroke="none" stroke-width="1" stroke-linejoin="miter" />
<polyline points="715,298 704.9,298" fill="none" stroke="#f7b07c" stroke-width="2.6" stroke-linejoin="miter" />
<polygon points="699.3,298 707.3,293.75 707.3,302.25" fill="#f7b07c" stroke="none" stroke-width="1" stroke-linejoin="miter" />
<polyline points="830,444.5 830,429.6" fill="none" stroke="#f7b07c" stroke-width="2.6" stroke-linejoin="miter" />
<polygon points="830,424 834.25,432 825.75,432" fill="#f7b07c" stroke="none" stroke-width="1" stroke-linejoin="miter" />
<rect x="1.3" y="514.4" width="360" height="205.8" rx="0" fill="#fdf8f3" stroke="#000" stroke-width="1.8" />
<rect x="9.3" y="554.4" width="271.5" height="100" rx="0" fill="#d9d9d9" stroke="#444" stroke-width="1.3" />
<text x="12.2" y="569.2" font-family="Liberation Sans" font-size="12.7" font-weight="normal" font-style="normal" text-anchor="start" fill="#000" letter-spacing="1" >Soma</text>
<rect x="110.5" y="522" width="61" height="22.3" rx="0" fill="#b8dfe1" stroke="#444" stroke-width="1.3" />
<text x="141.2" y="537" font-family="Liberation Sans" font-size="12.4" font-weight="normal" font-style="normal" text-anchor="middle" fill="#000" letter-spacing="0.5" >Spike</text>
<polyline points="253.8,583.7 253.8,531.7" fill="none" stroke="#000" stroke-width="1.6" stroke-linejoin="miter" />
<polyline points="320.8,531.7 176.75,531.7" fill="none" stroke="#000" stroke-width="1.6" stroke-linejoin="miter" />
<polygon points="171.5,531.7 179,527.45 179,535.95" fill="#000" stroke="none" stroke-width="1" stroke-linejoin="miter" />
<polyline points="253.8,531.7 320.8,531.7 320.8,588.05" fill="none" stroke="#000" stroke-width="1.6" stroke-linejoin="miter" />
<polygon points="320.8,593.3 316.55,585.8 325.05,585.8" fill="#000" stroke="none" stroke-width="1" stroke-linejoin="miter" />
<polyline points="140,544.3 140,608.25" fill="none" stroke="#000" stroke-width="1.6" stroke-linejoin="miter" />
<polygon points="140,613.5 135.75,606 144.25,606" fill="#000" stroke="none" stroke-width="1" stroke-linejoin="miter" />
<polygon points="132.5,610.5 147.5,618.8 147.5,638.8 132.5,646.3" fill="#d9d9d9" stroke="#000" stroke-width="1.4" stroke-linejoin="miter" />
<circle cx="53.3" cy="620.5" r="7.9" fill="none" stroke="#000" stroke-width="1.5"/>
<polyline points="47.71,614.91 58.89,626.09" fill="none" stroke="#000" stroke-width="1.5" stroke-linejoin="miter" />
<polyline points="47.71,626.09 58.89,614.91" fill="none" stroke="#000" stroke-width="1.5" stroke-linejoin="miter" />
<circle cx="188.2" cy="628.4" r="7.8" fill="none" stroke="#000" stroke-width="1.5"/>
<polyline points="180.4,628.4 196,628.4" fill="none" stroke="#000" stroke-width="1.5" stroke-linejoin="miter" />
<polyline points="188.2,620.6 188.2,636.2" fill="none" stroke="#000" stroke-width="1.5" stroke-linejoin="miter" />
<polyline points="21.8,711.5 21.8,620.5 39.75,620.5" fill="none" stroke="#000" stroke-width="1.6" stroke-linejoin="miter" />
<polygon points="45,620.5 37.5,624.75 37.5,616.25" fill="#000" stroke="none" stroke-width="1" stroke-linejoin="miter" />
<polyline points="53.3,649.5 53.3,633.95" fill="none" stroke="#000" stroke-width="1.6" stroke-linejoin="miter" />
<polygon points="53.3,628.7 57.55,636.2 49.05,636.2" fill="#000" stroke="none" stroke-width="1" stroke-linejoin="miter" />
<polyline points="61.5,620.5 127.25,620.5" fill="none" stroke="#000" stroke-width="1.6" stroke-linejoin="miter" />
<polygon points="132.5,620.5 125,624.75 125,616.25" fill="#000" stroke="none" stroke-width="1" stroke-linejoin="miter" />
<polyline points="100,636.3 127.25,636.3" fill="none" stroke="#000" stroke-width="1.6" stroke-linejoin="miter" />
<polygon points="132.5,636.3 125,640.55 125,632.05" fill="#000" stroke="none" stroke-width="1" stroke-linejoin="miter" />
<polyline points="147.5,628.5 174.55,628.5" fill="none" stroke="#000" stroke-width="1.6" stroke-linejoin="miter" />
<polygon points="179.8,628.5 172.3,632.75 172.3,624.25" fill="#000" stroke="none" stroke-width="1" stroke-linejoin="miter" />
<polyline points="196.2,628.8 253.8,628.8" fill="none" stroke="#000" stroke-width="1.6" stroke-linejoin="miter" />
<polyline points="188,672 188,641.95" fill="none" stroke="#000" stroke-width="1.6" stroke-linejoin="miter" />
<polygon points="188,636.7 192.25,644.2 183.75,644.2" fill="#000" stroke="none" stroke-width="1" stroke-linejoin="miter" />
<rect x="149.5" y="672" width="77.3" height="22.5" rx="0" fill="#b8dfe1" stroke="#444" stroke-width="1.3" />
<rect x="231.4" y="583.7" width="44.4" height="23.4" rx="0" fill="#d9d9d9" stroke="#444" stroke-width="1.3" />
<text x="253.4" y="599.7" font-family="Liberation Sans" font-size="14.5" font-weight="normal" font-style="normal" text-anchor="middle" fill="#000" letter-spacing="0.3" >fire</text>
<polyline points="253.8,612.35 253.8,666.85" fill="none" stroke="#000" stroke-width="1.6" stroke-linejoin="miter" />
<polygon points="253.8,672.1 249.55,664.6 258.05,664.6" fill="#000" stroke="none" stroke-width="1" stroke-linejoin="miter" />
<polygon points="253.8,607.1 258.05,614.6 249.55,614.6" fill="#000" stroke="none" stroke-width="1" stroke-linejoin="miter" />
<rect x="285.4" y="593.3" width="70.2" height="50.2" rx="0" fill="#d9d9d9" stroke="#444" stroke-width="1.3" />
<text x="303.9" y="614" font-family="Liberation Sans" font-size="14.3" font-weight="normal" fill="#000" textLength="30.4" lengthAdjust="spacingAndGlyphs">max</text>
<text x="290.6" y="631.8" font-family="Liberation Sans" font-size="14.3" font-weight="normal" fill="#000" textLength="56.4" lengthAdjust="spacingAndGlyphs">Pooling</text>
<polyline points="320.8,643.5 320.8,666.85" fill="none" stroke="#000" stroke-width="1.6" stroke-linejoin="miter" />
<polygon points="320.8,672.1 316.55,664.6 325.05,664.6" fill="#000" stroke="none" stroke-width="1" stroke-linejoin="miter" />
<rect x="231.4" y="672.1" width="44.4" height="22.3" rx="0" fill="#b8dfe1" stroke="#444" stroke-width="1.3" />
<text x="247" y="688.3" font-family="Liberation Serif" font-size="16" font-weight="bold" font-style="normal" text-anchor="start" fill="#000" letter-spacing="0" >u</text>
<text x="256.1" y="683.2" font-family="Liberation Serif" font-size="9" font-weight="normal" font-style="italic" text-anchor="start" fill="#000" letter-spacing="0" >l</text>
<rect x="299.3" y="672.1" width="44" height="22.3" rx="0" fill="#b8dfe1" stroke="#444" stroke-width="1.3" />
<text x="315.8" y="688.3" font-family="Liberation Serif" font-size="16" font-weight="bold" font-style="normal" text-anchor="start" fill="#000" letter-spacing="0" >s</text>
<text x="323.1" y="683.2" font-family="Liberation Serif" font-size="9" font-weight="normal" font-style="italic" text-anchor="start" fill="#000" letter-spacing="0" >l</text>
<polyline points="253.8,694.4 253.8,711.5 21.8,711.5 21.8,700" fill="none" stroke="#000" stroke-width="1.6" stroke-linejoin="miter" />
<text x="187.6" y="687" font-family="Liberation Sans" font-size="12.4" font-weight="normal" font-style="normal" text-anchor="middle" fill="#000" letter-spacing="0.63" >Conv_FP</text>
<text x="105.3" y="584.1" font-family="Liberation Serif" font-size="15" font-weight="bold" font-style="normal" text-anchor="start" fill="#000" letter-spacing="0" >s</text>
<text x="114.6" y="577.3" font-family="Liberation Serif" font-size="10.5" font-weight="normal" font-style="italic" text-anchor="start" fill="#000" letter-spacing="0" >l</text>
<text x="112.6" y="587" font-family="Liberation Serif" font-size="11" font-weight="normal" font-style="italic" text-anchor="start" fill="#000" letter-spacing="0" >t</text>
<polyline points="120,583.3 126.9,583.3" fill="none" stroke="#000" stroke-width="0.9" stroke-linejoin="miter" />
<text x="127.8" y="587" font-family="Liberation Serif" font-size="11.5" font-weight="normal" font-style="normal" text-anchor="start" fill="#000" letter-spacing="0" >1</text>
<text x="73.4" y="610.8" font-family="Liberation Serif" font-size="15" font-weight="normal" font-style="normal" text-anchor="start" fill="#000" letter-spacing="0" >&#945;</text>
<text x="83.6" y="610.8" font-family="Liberation Serif" font-size="15" font-weight="bold" font-style="normal" text-anchor="start" fill="#000" letter-spacing="0" >u</text>
<text x="94" y="604" font-family="Liberation Serif" font-size="10.5" font-weight="normal" font-style="italic" text-anchor="start" fill="#000" letter-spacing="0" >l</text>
<text x="93.4" y="614.6" font-family="Liberation Serif" font-size="11" font-weight="normal" font-style="italic" text-anchor="start" fill="#000" letter-spacing="0" >t</text>
<polyline points="99.7,611.2 107.4,611.2" fill="none" stroke="#000" stroke-width="0.9" stroke-linejoin="miter" />
<text x="108.6" y="614.6" font-family="Liberation Serif" font-size="11.5" font-weight="normal" font-style="normal" text-anchor="start" fill="#000" letter-spacing="0" >1</text>
<text x="233.3" y="577.4" font-family="Liberation Serif" font-size="15" font-weight="bold" font-style="normal" text-anchor="start" fill="#000" letter-spacing="0" >s</text>
<text x="242.1" y="571.6" font-family="Liberation Serif" font-size="10" font-weight="normal" font-style="italic" text-anchor="start" fill="#000" letter-spacing="0" >l</text>
<text x="241.7" y="579.4" font-family="Liberation Serif" font-size="10" font-weight="normal" font-style="italic" text-anchor="start" fill="#000" letter-spacing="0" >t</text>
<text x="255.7" y="646.3" font-family="Liberation Serif" font-size="15" font-weight="bold" font-style="normal" text-anchor="start" fill="#000" letter-spacing="0" >u</text>
<text x="268" y="639.3" font-family="Liberation Serif" font-size="10" font-weight="normal" font-style="italic" text-anchor="start" fill="#000" letter-spacing="0" >l</text>
<text x="266.5" y="648.8" font-family="Liberation Serif" font-size="10" font-weight="normal" font-style="italic" text-anchor="start" fill="#000" letter-spacing="0" >t</text>
<text x="39.7" y="647.5" font-family="Liberation Serif" font-size="14" font-weight="normal" font-style="normal" text-anchor="start" fill="#000" letter-spacing="0" >&#945;</text>
<text x="85.2" y="641.3" font-family="Liberation Serif" font-size="15" font-weight="bold" font-style="normal" text-anchor="start" fill="#000" letter-spacing="0" >0</text>
<rect x="391" y="514.4" width="551" height="205.8" rx="0" fill="#e8eef8" stroke="#000" stroke-width="1.8" />
<rect x="603.7" y="527" width="271.8" height="180.6" rx="0" fill="#d9d9d9" stroke="#444" stroke-width="1.3" />
<text x="834.3" y="542.7" font-family="Liberation Sans" font-size="13.8" font-weight="normal" font-style="normal" text-anchor="start" fill="#000" letter-spacing="0.2" >Grad</text>
<text x="404.8" y="535.1" font-family="Liberation Serif" font-size="15.5" font-weight="bold" font-style="normal" text-anchor="start" fill="#000" letter-spacing="0" >u</text>
<text x="415.6" y="529.6" font-family="Liberation Serif" font-size="10.5" font-weight="normal" font-style="italic" text-anchor="start" fill="#000" letter-spacing="0" >l</text>
<polyline points="391,540.2 428.05,540.2" fill="none" stroke="#000" stroke-width="1.6" stroke-linejoin="miter" />
<polygon points="433.3,540.2 425.8,544.45 425.8,535.95" fill="#000" stroke="none" stroke-width="1" stroke-linejoin="miter" />
<polyline points="414.5,540.2 414.5,586.7 524.35,586.7" fill="none" stroke="#000" stroke-width="1.6" stroke-linejoin="miter" />
<polygon points="529.6,586.7 522.1,590.95 522.1,582.45" fill="#000" stroke="none" stroke-width="1" stroke-linejoin="miter" />
<rect x="433.3" y="530.4" width="78.5" height="18.7" rx="0" fill="#ebf0f9" stroke="#333" stroke-width="1.3" />
<text x="433.6" y="543.7" font-family="Liberation Serif" font-size="11" font-weight="normal" font-style="normal" text-anchor="start" fill="#000" letter-spacing="0" >(</text>
<text x="438.6" y="543.7" font-family="Liberation Serif" font-size="11" font-weight="bold" font-style="normal" text-anchor="start" fill="#000" letter-spacing="0" >&gt;</text>
<text x="447.3" y="543.7" font-family="Liberation Serif" font-size="11" font-weight="bold" font-style="normal" text-anchor="start" fill="#000" letter-spacing="0" >th</text>
<text x="457.2" y="546.5" font-family="Liberation Serif" font-size="7" font-weight="normal" font-style="italic" text-anchor="start" fill="#000" letter-spacing="0" >l</text>
<text x="459.2" y="543.7" font-family="Liberation Serif" font-size="11" font-weight="normal" font-style="normal" text-anchor="start" fill="#000" letter-spacing="0" >)</text>
<text x="464.6" y="543.7" font-family="Liberation Serif" font-size="9" font-weight="normal" font-style="normal" text-anchor="start" fill="#000" letter-spacing="0" >&amp;&amp;</text>
<text x="480.5" y="543.7" font-family="Liberation Serif" font-size="11" font-weight="normal" font-style="normal" text-anchor="start" fill="#000" letter-spacing="0" >(</text>
<text x="485.8" y="543.7" font-family="Liberation Serif" font-size="11" font-weight="bold" font-style="normal" text-anchor="start" fill="#000" letter-spacing="0" >&lt;</text>
<text x="493.7" y="543.7" font-family="Liberation Serif" font-size="11" font-weight="bold" font-style="normal" text-anchor="start" fill="#000" letter-spacing="0" >th</text>
<text x="504" y="546.5" font-family="Liberation Serif" font-size="7" font-weight="normal" font-style="italic" text-anchor="start" fill="#000" letter-spacing="0" >l</text>
<text x="506.7" y="543.7" font-family="Liberation Serif" font-size="11" font-weight="normal" font-style="normal" text-anchor="start" fill="#000" letter-spacing="0" >)</text>
<polyline points="511.8,540.2 524.35,540.2" fill="none" stroke="#000" stroke-width="1.6" stroke-linejoin="miter" />
<polygon points="529.6,540.2 522.1,544.45 522.1,535.95" fill="#000" stroke="none" stroke-width="1" stroke-linejoin="miter" />
<rect x="529.6" y="530.4" width="63.8" height="18.2" rx="0" fill="#b8dfe1" stroke="#444" stroke-width="1.3" />
<rect x="529.6" y="554.3" width="63.8" height="17.8" rx="0" fill="#b8dfe1" stroke="#444" stroke-width="1.3" />
<rect x="529.6" y="577.5" width="63.8" height="17.4" rx="0" fill="#b8dfe1" stroke="#444" stroke-width="1.3" />
<rect x="529.6" y="600.8" width="63.8" height="17.5" rx="0" fill="#b8dfe1" stroke="#444" stroke-width="1.3" />
<text x="550" y="543.9" font-family="Liberation Serif" font-size="12" font-weight="bold" font-style="normal" text-anchor="start" fill="#000" letter-spacing="0" >Fire</text>
<text x="572" y="540.5" font-family="Liberation Serif" font-size="10" font-weight="normal" font-style="normal" text-anchor="start" fill="#000" letter-spacing="0" >&#8242;</text>
<text x="557.6" y="568.2" font-family="Liberation Serif" font-size="14" font-weight="bold" font-style="normal" text-anchor="start" fill="#000" letter-spacing="0" >s</text>
<text x="564.5" y="563.6" font-family="Liberation Serif" font-size="8.5" font-weight="normal" font-style="italic" text-anchor="start" fill="#000" letter-spacing="0" >l</text>
<text x="556.5" y="591.2" font-family="Liberation Serif" font-size="14" font-weight="bold" font-style="normal" text-anchor="start" fill="#000" letter-spacing="0" >u</text>
<text x="564.4" y="586.6" font-family="Liberation Serif" font-size="8.5" font-weight="normal" font-style="italic" text-anchor="start" fill="#000" letter-spacing="0" >l</text>
<text x="536.6" y="613.6" font-family="Liberation Sans" font-size="11.3" font-weight="normal" font-style="normal" text-anchor="start" fill="#000" letter-spacing="0" >Conv_BP</text>
<polyline points="593.4,540 764.6,540 764.6,554.25" fill="none" stroke="#000" stroke-width="1.6" stroke-linejoin="miter" />
<polygon points="764.6,559.5 760.35,552 768.85,552" fill="#000" stroke="none" stroke-width="1" stroke-linejoin="miter" />
<polyline points="593.4,563.2 653.85,563.2" fill="none" stroke="#000" stroke-width="1.6" stroke-linejoin="miter" />
<polygon points="659.1,563.2 651.6,567.45 651.6,558.95" fill="#000" stroke="none" stroke-width="1" stroke-linejoin="miter" />
<rect x="659.1" y="552.4" width="54.6" height="20.7" rx="0" fill="#d9d9d9" stroke="#333" stroke-width="1.3" />
<text x="662.5" y="567.4" font-family="Liberation Sans" font-size="14.3" font-weight="normal" font-style="normal" text-anchor="start" fill="#000" letter-spacing="0" >pooling</text>
<polyline points="686.9,573.1 686.9,580.5" fill="none" stroke="#000" stroke-width="1.6" stroke-linejoin="miter" />
<polygon points="686.9,585.4 682.65,578.4 691.15,578.4" fill="#000" stroke="none" stroke-width="1" stroke-linejoin="miter" />
<polyline points="593.4,587 616.4,587 616.4,644 634.25,644" fill="none" stroke="#000" stroke-width="1.6" stroke-linejoin="miter" />
<polygon points="639.5,644 632,648.25 632,639.75" fill="#000" stroke="none" stroke-width="1" stroke-linejoin="miter" />
<polyline points="593.4,609 634.35,609" fill="none" stroke="#000" stroke-width="1.6" stroke-linejoin="miter" />
<polygon points="639.6,609 632.1,613.25 632.1,604.75" fill="#000" stroke="none" stroke-width="1" stroke-linejoin="miter" />
<circle cx="647.9" cy="609" r="7.5" fill="none" stroke="#000" stroke-width="1.5"/>
<polyline points="640.4,609 655.4,609" fill="none" stroke="#000" stroke-width="1.5" stroke-linejoin="miter" />
<polyline points="647.9,601.5 647.9,616.5" fill="none" stroke="#000" stroke-width="1.5" stroke-linejoin="miter" />
<circle cx="647.9" cy="644" r="7.5" fill="none" stroke="#000" stroke-width="1.5"/>
<polyline points="642.6,638.7 653.2,649.3" fill="none" stroke="#000" stroke-width="1.5" stroke-linejoin="miter" />
<polyline points="642.6,649.3 653.2,638.7" fill="none" stroke="#000" stroke-width="1.5" stroke-linejoin="miter" />
<circle cx="626.8" cy="678.2" r="7.4" fill="none" stroke="#000" stroke-width="1.5"/>
<polyline points="621.57,672.97 632.03,683.43" fill="none" stroke="#000" stroke-width="1.5" stroke-linejoin="miter" />
<polyline points="621.57,683.43 632.03,672.97" fill="none" stroke="#000" stroke-width="1.5" stroke-linejoin="miter" />
<polyline points="647.9,636.5 647.9,621.75" fill="none" stroke="#000" stroke-width="1.6" stroke-linejoin="miter" />
<polygon points="647.9,616.5 652.15,624 643.65,624" fill="#000" stroke="none" stroke-width="1" stroke-linejoin="miter" />
<polyline points="655.4,609 674.35,609" fill="none" stroke="#000" stroke-width="1.6" stroke-linejoin="miter" />
<polygon points="679.6,609 672.1,613.25 672.1,604.75" fill="#000" stroke="none" stroke-width="1" stroke-linejoin="miter" />
<text x="643.2" y="595.4" font-family="Liberation Sans" font-size="12" font-weight="normal" font-style="normal" text-anchor="start" fill="#000" letter-spacing="0" >0</text>
<polyline points="655.6,592.3 674.25,592.3" fill="none" stroke="#000" stroke-width="1.6" stroke-linejoin="miter" />
<polygon points="679.5,592.3 672,596.55 672,588.05" fill="#000" stroke="none" stroke-width="1" stroke-linejoin="miter" />
<polygon points="679.5,583.8 693.3,590.9 693.3,611 679.5,618.1" fill="#d9d9d9" stroke="#222" stroke-width="1.3" stroke-linejoin="miter" />
<polyline points="693.3,600.6 774.05,600.6" fill="none" stroke="#000" stroke-width="1.6" stroke-linejoin="miter" />
<polygon points="779.3,600.6 771.8,604.85 771.8,596.35" fill="#000" stroke="none" stroke-width="1" stroke-linejoin="miter" />
<text x="573.3" y="680.1" font-family="Liberation Serif" font-size="15" font-weight="normal" font-style="normal" text-anchor="start" fill="#000" letter-spacing="0" >&#945;</text>
<polyline points="587,678.2 614.15,678.2" fill="none" stroke="#000" stroke-width="1.6" stroke-linejoin="miter" />
<polygon points="619.4,678.2 611.9,682.45 611.9,673.95" fill="#000" stroke="none" stroke-width="1" stroke-linejoin="miter" />
<polyline points="634.2,678.2 706.8,678.2 706.8,646.5" fill="none" stroke="#000" stroke-width="1.6" stroke-linejoin="miter" />
<polyline points="706.8,646.5 774.05,646.5" fill="none" stroke="#000" stroke-width="1.6" stroke-linejoin="miter" />
<polygon points="779.3,646.5 771.8,650.75 771.8,642.25" fill="#000" stroke="none" stroke-width="1" stroke-linejoin="miter" />
<polyline points="647.9,678.2 647.9,656.75" fill="none" stroke="#000" stroke-width="1.6" stroke-linejoin="miter" />
<polygon points="647.9,651.5 652.15,659 643.65,659" fill="#000" stroke="none" stroke-width="1" stroke-linejoin="miter" />
<polygon points="757.3,555.4 771.7,563 771.7,583.9 757.3,590.5" fill="#d9d9d9" stroke="#222" stroke-width="1.3" stroke-linejoin="miter" />
<text x="721.7" y="567.4" font-family="Liberation Sans" font-size="14.5" font-weight="normal" font-style="normal" text-anchor="start" fill="#000" letter-spacing="0" >&#946;</text>
<text x="722.1" y="585.3" font-family="Liberation Sans" font-size="12" font-weight="normal" font-style="normal" text-anchor="start" fill="#000" letter-spacing="0" >0</text>
<polyline points="735.6,565.6 752.05,565.6" fill="none" stroke="#000" stroke-width="1.6" stroke-linejoin="miter" />
<polygon points="757.3,565.6 749.8,569.85 749.8,561.35" fill="#000" stroke="none" stroke-width="1" stroke-linejoin="miter" />
<polyline points="735.6,580.8 752.05,580.8" fill="none" stroke="#000" stroke-width="1.6" stroke-linejoin="miter" />
<polygon points="757.3,580.8 749.8,585.05 749.8,576.55" fill="#000" stroke="none" stroke-width="1" stroke-linejoin="miter" />
<polyline points="771.7,573.2 787,573.2 787,588.15" fill="none" stroke="#000" stroke-width="1.6" stroke-linejoin="miter" />
<polygon points="787,593.4 782.75,585.9 791.25,585.9" fill="#000" stroke="none" stroke-width="1" stroke-linejoin="miter" />
<text x="768.8" y="548.6" font-family="Liberation Serif" font-size="11.5" font-weight="bold" font-style="normal" text-anchor="start" fill="#000" letter-spacing="0.3" >Fire</text>
<text x="791.2" y="545.3" font-family="Liberation Serif" font-size="9.5" font-weight="normal" font-style="normal" text-anchor="start" fill="#000" letter-spacing="0" >&#8242;</text>
<circle cx="787" cy="600.8" r="7.6" fill="none" stroke="#000" stroke-width="1.5"/>
<polyline points="781.63,595.43 792.37,606.17" fill="none" stroke="#000" stroke-width="1.5" stroke-linejoin="miter" />
<polyline points="781.63,606.17 792.37,595.43" fill="none" stroke="#000" stroke-width="1.5" stroke-linejoin="miter" />
<circle cx="820.8" cy="600.8" r="7.6" fill="none" stroke="#000" stroke-width="1.5"/>
<polyline points="813.2,600.8 828.4,600.8" fill="none" stroke="#000" stroke-width="1.5" stroke-linejoin="miter" />
<polyline points="820.8,593.2 820.8,608.4" fill="none" stroke="#000" stroke-width="1.5" stroke-linejoin="miter" />
<polyline points="794.6,600.8 807.95,600.8" fill="none" stroke="#000" stroke-width="1.6" stroke-linejoin="miter" />
<polygon points="813.2,600.8 805.7,605.05 805.7,596.55" fill="#000" stroke="none" stroke-width="1" stroke-linejoin="miter" />
<polyline points="828.4,600.8 883.15,600.8" fill="none" stroke="#000" stroke-width="1.6" stroke-linejoin="miter" />
<polygon points="888.4,600.8 880.9,605.05 880.9,596.55" fill="#000" stroke="none" stroke-width="1" stroke-linejoin="miter" />
<polygon points="832.78,589.3 837.32,589.3 835.05,593.94" fill="none" stroke="#000" stroke-width="1.6" stroke-linejoin="miter" />
<text x="839.2" y="596.6" font-family="Liberation Serif" font-size="15.5" font-weight="bold" font-style="normal" text-anchor="start" fill="#000" letter-spacing="0" >u</text>
<text x="851" y="591.9" font-family="Liberation Serif" font-size="9" font-weight="normal" font-style="italic" text-anchor="start" fill="#000" letter-spacing="0" >l</text>
<text x="855.2" y="591.9" font-family="Liberation Serif" font-size="9.5" font-weight="normal" font-style="normal" text-anchor="start" fill="#000" letter-spacing="0" >+</text>
<text x="863.6" y="591.9" font-family="Liberation Serif" font-size="9.5" font-weight="normal" font-style="normal" text-anchor="start" fill="#000" letter-spacing="0" >1</text>
<rect x="888.4" y="590.3" width="36.4" height="21.2" rx="0" fill="#b8dfe1" stroke="#333" stroke-width="1.4" />
<polygon points="897.82,599.15 901.68,599.15 899.75,603.78" fill="none" stroke="#000" stroke-width="1.9" stroke-linejoin="miter" />
<text x="903.8" y="605.6" font-family="Liberation Serif" font-size="14.5" font-weight="bold" font-style="normal" text-anchor="start" fill="#000" letter-spacing="0" >u</text>
<text x="913.2" y="599.9" font-family="Liberation Serif" font-size="8.5" font-weight="normal" font-style="italic" text-anchor="start" fill="#000" letter-spacing="0" >l</text>
<polyline points="924.8,600.8 935.9,600.8 935.9,701.1 626.8,701.1 626.8,690.85" fill="none" stroke="#000" stroke-width="1.6" stroke-linejoin="miter" />
<polygon points="626.8,685.6 631.05,693.1 622.55,693.1" fill="#000" stroke="none" stroke-width="1" stroke-linejoin="miter" />
<polygon points="779.3,622.1 793.6,629.7 793.6,649.4 779.3,656.5" fill="#d9d9d9" stroke="#222" stroke-width="1.3" stroke-linejoin="miter" />
<text x="744.3" y="635.2" font-family="Liberation Sans" font-size="12" font-weight="normal" font-style="normal" text-anchor="start" fill="#000" letter-spacing="0" >0</text>
<polyline points="757.5,630.4 774.05,630.4" fill="none" stroke="#000" stroke-width="1.6" stroke-linejoin="miter" />
<polygon points="779.3,630.4 771.8,634.65 771.8,626.15" fill="#000" stroke="none" stroke-width="1" stroke-linejoin="miter" />
<polyline points="793.6,638.7 821,638.7 821,613.65" fill="none" stroke="#000" stroke-width="1.6" stroke-linejoin="miter" />
<polygon points="821,608.4 825.25,615.9 816.75,615.9" fill="#000" stroke="none" stroke-width="1" stroke-linejoin="miter" />
<polyline points="786.4,677.9 786.4,658.25" fill="none" stroke="#000" stroke-width="1.6" stroke-linejoin="miter" />
<polygon points="786.4,653 790.65,660.5 782.15,660.5" fill="#000" stroke="none" stroke-width="1" stroke-linejoin="miter" />
<text x="791.6" y="677.2" font-family="Liberation Serif" font-size="15.5" font-weight="bold" font-style="normal" text-anchor="start" fill="#000" letter-spacing="0" >s</text>
<text x="799.6" y="670.8" font-family="Liberation Serif" font-size="9.5" font-weight="normal" font-style="italic" text-anchor="start" fill="#000" letter-spacing="0" >l</text>
<text x="798.8" y="679.3" font-family="Liberation Serif" font-size="9.5" font-weight="normal" font-style="italic" text-anchor="start" fill="#000" letter-spacing="0" >t</text>
<polygon points="731.36,684.65 736.44,684.65 733.9,690.65" fill="none" stroke="#000" stroke-width="1.7" stroke-linejoin="miter" />
<text x="738.6" y="692.8" font-family="Liberation Serif" font-size="15.5" font-weight="bold" font-style="normal" text-anchor="start" fill="#000" letter-spacing="0" >u</text>
<text x="749.6" y="687.8" font-family="Liberation Serif" font-size="9" font-weight="normal" font-style="italic" text-anchor="start" fill="#000" letter-spacing="0" >l</text>
<text x="749.3" y="696.2" font-family="Liberation Serif" font-size="9" font-weight="normal" font-style="italic" text-anchor="start" fill="#000" letter-spacing="0" >t</text>
<polyline points="755,693 761.5,693" fill="none" stroke="#000" stroke-width="0.9" stroke-linejoin="miter" />
<text x="763.3" y="696.2" font-family="Liberation Serif" font-size="9.5" font-weight="normal" font-style="normal" text-anchor="start" fill="#000" letter-spacing="0" >1</text>
<text x="608.2" y="581.7" font-family="Liberation Serif" font-size="15" font-weight="bold" font-style="normal" text-anchor="start" fill="#000" letter-spacing="0" >u</text>
<text x="619" y="575.9" font-family="Liberation Serif" font-size="9.5" font-weight="normal" font-style="italic" text-anchor="start" fill="#000" letter-spacing="0" >l</text>
<text x="618.4" y="585.4" font-family="Liberation Serif" font-size="9.5" font-weight="normal" font-style="italic" text-anchor="start" fill="#000" letter-spacing="0" >t</text>
</svg></body></html>
